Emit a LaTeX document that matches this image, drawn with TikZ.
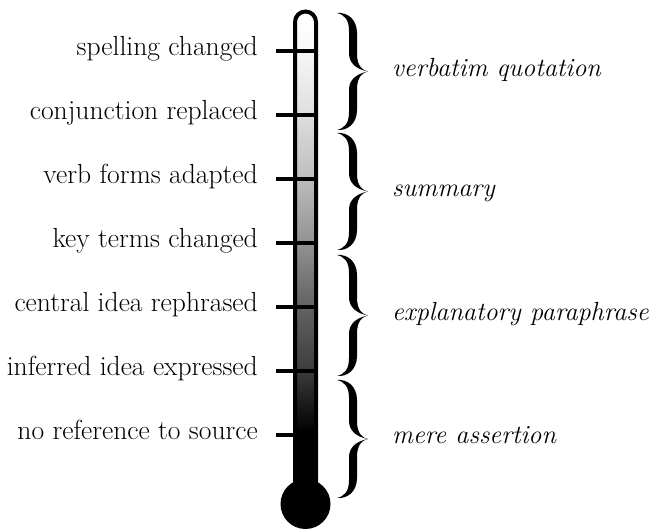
\documentclass[tikz,border=0pt]{standalone}
\pgfdeclareverticalshading{thermo}{100bp}{color(0bp)=(black); color(25bp)=(black); color(28.8bp)=(black!88); color(32.9bp)=(black!75); color(40.6bp)=(black!60); color(47.7bp)=(black!42); color(55.5bp)=(black!25); color(63.2bp)=(black!12); color(70.3bp)=(black!3); color(73.8bp)=(white); color(100bp)=(white)}
\newcommand{\tbrace}[3]{%
  \pgfmathsetmacro\bm{(#1+#2)/2}%
  \pgfmathsetmacro\bh{(#2-#1)/2}%
  \begin{scope}[shift={(337,\bm)}]
    \fill[black] (0,-\bh) .. controls (10,-\bh-1) and (20,-\bh+6) .. (20,-\bh+20) -- (20,-18) .. controls (20,-6) and (25,-1) .. (31,0) .. controls (20,-2) and (12,-8) .. (12,-18) -- (12,-\bh+18) .. controls (12,-\bh+7) and (8,-\bh+2) .. (0,-\bh) -- cycle;
    \begin{scope}[yscale=-1]
    \fill[black] (0,-\bh) .. controls (10,-\bh-1) and (20,-\bh+6) .. (20,-\bh+20) -- (20,-18) .. controls (20,-6) and (25,-1) .. (31,0) .. controls (20,-2) and (12,-8) .. (12,-18) -- (12,-\bh+18) .. controls (12,-\bh+7) and (8,-\bh+2) .. (0,-\bh) -- cycle;
    \end{scope}
    \coordinate (#3) at (31,0);
  \end{scope}}
\begin{document}
\begin{tikzpicture}[x=1pt,y=-1pt,
  lab/.style={font=\fontsize{27.6}{32}\selectfont, inner sep=0pt, anchor=base east},
  cat/.style={font=\fontsize{26.2}{32}\selectfont\itshape, inner sep=0pt, anchor=base west},
  wall/.style={line width=4pt, black},
  tick/.style={line width=4pt, black}]
\useasboundingbox (0,0) rectangle (649,529);
% bulb
\fill[black] (305.5,504) circle (25);
% tube interior
\begin{scope}
  \clip (295,500) -- (295,22) arc[start angle=180, end angle=360, radius=10.5] -- (316,500) -- cycle;
  \fill[shading=thermo] (295,10) rectangle (316,432);
  \fill[black] (295,431) rectangle (316,500);
\end{scope}
\draw[wall] (295,495) -- (295,22) arc[start angle=180, end angle=360, radius=10.5] -- (316,495);
% ticks and labels
\foreach \y/\t/\n in {51.5/spelling changed/a, 115.4/conjunction replaced/b, 179.3/verb forms adapted/c, 243.2/key terms changed/d, 307.1/central idea rephrased/e, 371/inferred idea expressed/f, 434.9/no reference to source/g}{
  \coordinate (t\n) at (276,\y);
  \coordinate (w\n) at (316,\y);
  \draw[tick] (t\n) -- (w\n);
  \node[lab] (l\n) at (258,\y+4.5) {\t};
}
% braces
\tbrace{13}{130}{b1}
\tbrace{133}{250}{b2}
\tbrace{255}{376}{b3}
\tbrace{380}{498}{b4}
\node[cat] (c1) at (392,76.5) {verbatim quotation};
\node[cat] (c2) at (392,196.5) {summary};
\node[cat] (c3) at (392,320.5) {explanatory paraphrase};
\node[cat] (c4) at (392,444) {mere assertion};
\end{tikzpicture}
\end{document}
